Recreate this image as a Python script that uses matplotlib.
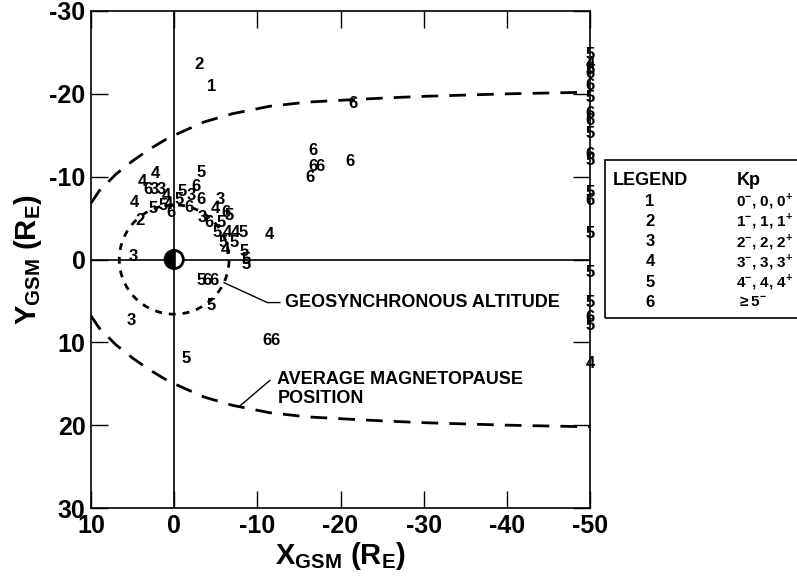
import numpy as np
import matplotlib.pyplot as plt
from matplotlib.patches import Circle, Wedge, Rectangle

plt.rcParams['font.family'] = ['Liberation Sans', 'DejaVu Sans']
plt.rcParams['font.weight'] = 'bold'
plt.rcParams['mathtext.fontset'] = 'custom'
plt.rcParams['mathtext.rm'] = 'Liberation Sans:bold'
plt.rcParams['mathtext.bf'] = 'Liberation Sans:bold'

# observation points: X_GSM, Y_GSM, Kp class
obs_x = [-3.0, -4.5, -21.5, -16.7, -16.7, -17.5, -16.3, -21.1, -3.2, 2.3,
         3.8, 3.2, 2.4, 1.6, 0.9, -2.6, -1.0, -2.0, -3.2, 4.8,
         2.5, 1.3, 0.75, -0.6, 0.4, -1.8, -5.6, -5.0, -6.2, -6.6,
         -3.4, -4.2, -5.6, -5.2, -6.4, -7.4, -8.3, -5.9, -7.2, -6.2,
         -8.4, -8.6, -8.7, 4.1, 4.9, -11.5, -3.2, -4.0, -4.8, -4.4,
         5.2, -11.2, -12.1, -1.4]
obs_y = [-23.5, -20.9, -18.8, -13.1, -11.2, -11.2, -9.9, -11.8, -10.5, -10.4,
         -9.4, -8.5, -8.5, -8.5, -7.7, -8.8, -8.2, -7.7, -7.3, -6.9,
         -6.1, -6.5, -6.7, -7.2, -5.7, -6.3, -7.2, -6.1, -5.7, -5.3,
         -5.1, -4.5, -4.5, -3.3, -3.3, -3.3, -3.3, -2.0, -2.0, -1.2,
         -1.0, 0.0, 0.6, -4.7, -0.4, -3.0, 2.5, 2.5, 2.5, 5.6,
         7.4, 9.8, 9.8, 12.0]
obs_kp = [2, 1, 6, 6, 6, 6, 6, 6, 5, 4,
          4, 6, 3, 3, 4, 6, 5, 3, 6, 4,
          5, 5, 4, 5, 6, 6, 3, 4, 6, 5,
          3, 6, 5, 5, 4, 4, 5, 5, 5, 4,
          5, 5, 5, 2, 3, 4, 5, 6, 6, 5,
          3, 6, 6, 5]

# points stacked along X = -50
col_x = -50
col_y = [-24.7, -23.7, -22.9, -22.4, -21.0, -19.6, -17.6, -16.8, -15.2, -12.7,
         -11.9, -8.1, -7.1, -3.1, 1.6, 5.2, 7.0, 8.0, 12.6]
col_kp = [5, 4, 5, 6, 6, 5, 6, 6, 5, 6, 5, 5, 6, 5, 5, 5, 6, 5, 4]

# average magnetopause half-width
mp_x = [10, 9, 7, 5, 3, 1, 0, -3.6, -7, -11.5, -16, -21.5, -25.4, -30, -40, -50]
mp_y = [6.8, 8.3, 10.3, 11.9, 13.3, 14.5, 15.0, 16.6, 17.6, 18.5, 19.0, 19.3,
        19.5, 19.7, 20.0, 20.2]

geo_r = 6.6
earth_r = 1.1

xticks = [10, 0, -10, -20, -30, -40, -50]
yticks = [-30, -20, -10, 0, 10, 20, 30]

legend_kp = ['1', '2', '3', '4', '5', '6']
legend_txt = [r'0$^{-}$, 0, 0$^{+}$', r'1$^{-}$, 1, 1$^{+}$',
              r'2$^{-}$, 2, 2$^{+}$', r'3$^{-}$, 3, 3$^{+}$',
              r'4$^{-}$, 4, 4$^{+}$', r'$\geq$5$^{-}$']

fig = plt.figure(figsize=(7.97, 5.83), dpi=100)
ax = fig.add_axes([91 / 797, 1 - 508 / 583, 499 / 797, 497 / 583])

ax.set_xlim(10, -50)
ax.set_ylim(30, -30)

ax.plot([0, 0], [-30, 30], color='black', lw=1.2)
ax.plot([10, -50], [0, 0], color='black', lw=1.2)

mp_x = np.array(mp_x)
mp_y = np.array(mp_y)
ax.plot(mp_x, -mp_y, color='black', lw=2, linestyle=(0, (6, 4)))
ax.plot(mp_x, mp_y, color='black', lw=2, linestyle=(0, (6, 4)))

ax.add_patch(Circle((0, 0), geo_r, fill=False, lw=2, ls=(0, (2.5, 2.5)),
                    color='black'))
ax.add_patch(Wedge((0, 0), earth_r, 90, 270, facecolor='white',
                   edgecolor='black', lw=2, zorder=5))
ax.add_patch(Wedge((0, 0), earth_r, -90, 90, facecolor='black',
                   edgecolor='black', lw=2, zorder=5))

for x, y, k in zip(obs_x, obs_y, obs_kp):
    ax.text(x, y, str(k), fontsize=12, fontweight='bold', ha='center',
            va='center', zorder=6)
for y, k in zip(col_y, col_kp):
    ax.text(col_x, y, str(k), fontsize=12, fontweight='bold', ha='center',
            va='center', zorder=6)

# labels on the curves
ax.plot([-6.0, -11.2, -12.7], [2.8, 5.2, 5.2], color='black', lw=1)
ax.text(-13.3, 5.2, 'GEOSYNCHRONOUS ALTITUDE', fontsize=13,
        fontweight='bold', ha='left', va='center')
ax.plot([-8.0, -11.5], [17.6, 14.6], color='black', lw=1)
ax.text(-12.4, 14.5, 'AVERAGE MAGNETOPAUSE', fontsize=13, fontweight='bold',
        ha='left', va='center')
ax.text(-12.4, 16.8, 'POSITION', fontsize=13, fontweight='bold',
        ha='left', va='center')

ax.set_xticks(xticks)
ax.set_yticks(yticks)
ax.set_xticklabels([str(t) for t in xticks])
ax.set_yticklabels([str(t) for t in yticks])
ax.tick_params(direction='in', length=12, width=1, labelsize=18,
               top=True, right=True, pad=4)
for lab in ax.get_xticklabels() + ax.get_yticklabels():
    lab.set_fontweight('bold')
for s in ax.spines.values():
    s.set_linewidth(1.2)

ax.set_xlabel(r'X$_{\mathbf{GSM}}$ (R$_{\mathbf{E}}$)', fontsize=21,
              fontweight='bold', labelpad=2)
ax.set_ylabel(r'Y$_{\mathbf{GSM}}$ (R$_{\mathbf{E}}$)', fontsize=21,
              fontweight='bold', labelpad=4)

# legend box
fig.patches.append(Rectangle((605 / 797, 1 - 318 / 583), 0.3, 158 / 583,
                             transform=fig.transFigure, fill=False,
                             edgecolor='black', lw=1.2))
fig.text(613 / 797, 1 - 180 / 583, 'LEGEND', fontsize=13, fontweight='bold',
         ha='left', va='center')
fig.text(737 / 797, 1 - 180 / 583, 'Kp', fontsize=13, fontweight='bold',
         ha='left', va='center')
for i, (k, t) in enumerate(zip(legend_kp, legend_txt)):
    yy = 1 - (201 + i * 20.3) / 583
    fig.text(650 / 797, yy, k, fontsize=12, fontweight='bold', ha='center',
             va='center')
    fig.text(736 / 797, yy, t, fontsize=11, fontweight='bold', ha='left',
             va='center')

fig.savefig('out.png', dpi=100)
